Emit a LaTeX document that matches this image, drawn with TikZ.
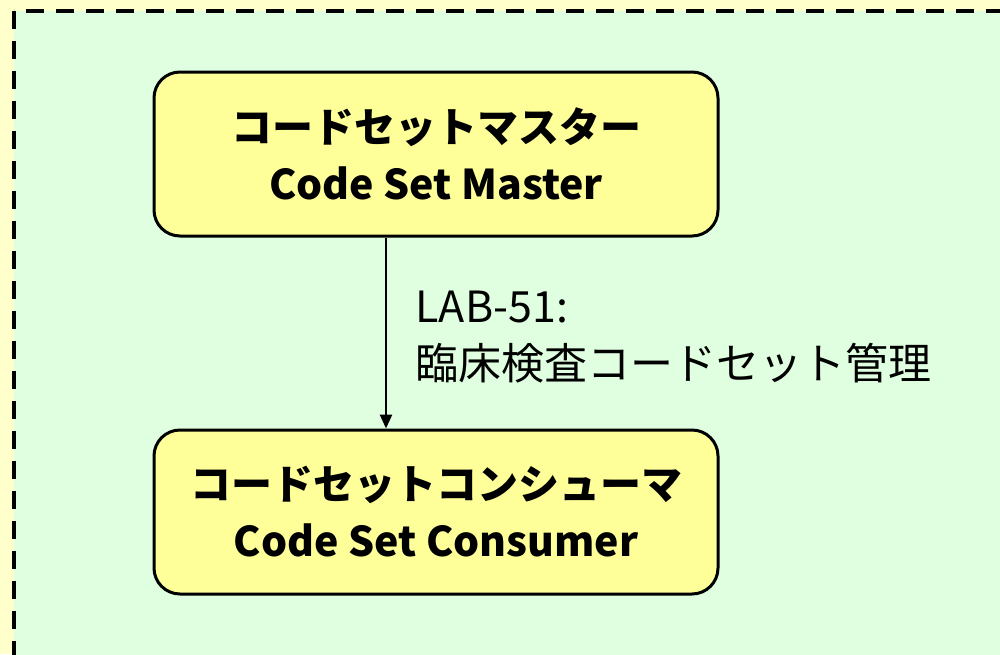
\documentclass[tikz,border=0pt]{standalone}
\usepackage{fontspec}
\setmainfont{Noto Sans CJK JP}
\usetikzlibrary{arrows.meta}
\definecolor{outerbg}{HTML}{FFFFCC}
\definecolor{groupbg}{HTML}{E0FFE0}
\definecolor{actorbg}{HTML}{FFFF99}
\begin{document}
\begin{tikzpicture}[x=1pt, y=-1pt, align=center,
  actor/.style={rectangle, rounded corners=26pt, draw=black, line width=3pt,
    fill=actorbg, minimum width=564pt, minimum height=164pt,
    font=\fontsize{41}{57}\selectfont\bfseries},
  trans/.style={anchor=west, align=left, font=\fontsize{43}{57}\selectfont} ]

\useasboundingbox (0,0) rectangle (1000,654);
\clip (0,0) rectangle (1000,654);

% Background and group frame
\fill[outerbg] (0,0) rectangle (1000,654);
\draw[fill=groupbg, line width=4pt, dash pattern=on 18pt off 12pt] (14,11)
  rectangle (1030,690);

% Actors
\node[actor] (master) at (436,154) {コードセットマスター\\Code Set Master};
\node[actor] (consumer) at (436,512) {コードセットコンシューマ\\Code Set Consumer};

% Transaction
\draw[line width=2.6pt, -{Triangle[width=12pt,length=14pt]}]
  ([xshift=-50pt]master.south) -- ([xshift=-50pt]consumer.north);
\node[trans] (lab51) at (412,337) {LAB-51:\\臨床検査コードセット管理};

\end{tikzpicture}
\end{document}
